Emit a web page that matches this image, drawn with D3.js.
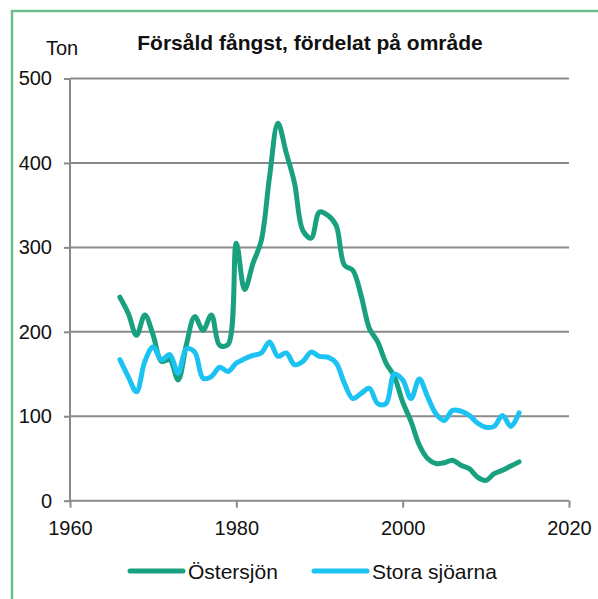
<!DOCTYPE html>
<html>
<head>
<meta charset="utf-8">
<script src="https://cdn.jsdelivr.net/npm/d3@7"></script>
<style>
  body { margin: 0; background: #fff; }
  svg { display: block; font-family: "Liberation Sans", Arial, sans-serif; }
</style>
</head>
<body>
<div id="chart-area"></div>
<script>
// Sold catch by area (tonnes)
var years = [1966, 1967, 1968, 1969, 1970, 1971, 1972, 1973, 1974, 1975,
    1976, 1977, 1978, 1979, 1980, 1981, 1982, 1983, 1984, 1985,
    1986, 1987, 1988, 1989, 1990, 1991, 1992, 1993, 1994, 1995,
    1996, 1997, 1998, 1999, 2000, 2001, 2002, 2003, 2004, 2005,
    2006, 2007, 2008, 2009, 2010, 2011, 2012, 2013, 2014];

var ostersjon = [241, 222, 196, 220, 196, 165, 167, 143, 185, 218,
    202, 220, 184, 185, 305, 250, 281, 308, 384, 447,
    412, 376, 320, 311, 342, 338, 326, 279, 273, 243,
    204, 188, 163, 147, 117, 94, 66, 50, 44, 45,
    48, 42, 38, 28, 24, 32, 36, 41, 46];

var storaSjoarna = [167, 147, 129, 165, 182, 167, 173, 151, 180, 176,
    145, 147, 158, 153, 163, 168, 172, 175, 188, 171,
    175, 161, 165, 176, 171, 170, 163, 139, 121, 127,
    133, 115, 115, 150, 143, 121, 144, 123, 103, 95,
    107, 106, 101, 92, 87, 88, 101, 88, 104];

var seriesNames = ["Östersjön", "Stora sjöarna"];
var seriesColors = ["#18a07f", "#1cc2f2"];
var yTicks = [0, 100, 200, 300, 400, 500];
var xTicks = [1960, 1980, 2000, 2020];

var W = 598, H = 599;
var margin = { left: 70, right: 29, top: 78.5, bottom: 98.3 };
var width = W - margin.left - margin.right,
    height = H - margin.top - margin.bottom;

var svg = d3.select("#chart-area")
    .append("svg")
        .attr("width", W)
        .attr("height", H);

// green frame (left + top edge visible)
svg.append("path")
    .attr("d", "M12,599 L12,11 L598,11")
    .attr("fill", "none")
    .attr("stroke", "#6cbd8d")
    .attr("stroke-width", 2.5);

var g = svg.append("g")
    .attr("transform", "translate(" + margin.left + ", " + margin.top + ")");

// X Scale
var x = d3.scaleLinear()
    .domain([1960, 2020])
    .range([0, width]);

// Y Scale
var y = d3.scaleLinear()
    .domain([0, 500])
    .range([height, 0]);

// Gridlines
g.append("g")
    .selectAll("line")
    .data(yTicks.filter(function(d){ return d > 0; }))
    .enter().append("line")
        .attr("x1", 0)
        .attr("x2", width)
        .attr("y1", function(d){ return y(d); })
        .attr("y2", function(d){ return y(d); })
        .attr("stroke", "#8a8a8a")
        .attr("stroke-width", 2);

// Y Axis
var yAxisCall = d3.axisLeft(y)
    .tickValues(yTicks)
    .tickSize(6)
    .tickPadding(12);
var yAxisGroup = g.append("g")
    .attr("class", "y axis")
    .call(yAxisCall);

// X Axis
var xAxisCall = d3.axisBottom(x)
    .tickValues(xTicks)
    .tickFormat(d3.format("d"))
    .tickSize(7)
    .tickPadding(13);
var xAxisGroup = g.append("g")
    .attr("class", "x axis")
    .attr("transform", "translate(0," + height + ")")
    .call(xAxisCall);

[yAxisGroup, xAxisGroup].forEach(function(ax){
    ax.select(".domain").attr("stroke", "#8a8a8a").attr("stroke-width", 2);
    ax.selectAll(".tick line").attr("stroke", "#8a8a8a").attr("stroke-width", 2);
    ax.selectAll(".tick text")
        .attr("fill", "#111")
        .attr("font-size", "20px")
        .attr("font-family", "'Liberation Sans', Arial, sans-serif");
});
yAxisGroup.select(".domain").attr("d", "M0," + height + "V0");
xAxisGroup.select(".domain").attr("d", "M0,0H" + width);

// Lines
var line = d3.line()
    .x(function(d){ return x(d.year); })
    .y(function(d){ return y(d.value); })
    .curve(d3.curveCatmullRom.alpha(0.5));

var series = [ostersjon, storaSjoarna].map(function(vals, i){
    return {
        name: seriesNames[i],
        color: seriesColors[i],
        values: years.map(function(yr, j){ return { year: yr, value: vals[j] }; })
    };
});

// green first, blue drawn over it
g.selectAll(".series")
    .data(series)
    .enter().append("path")
        .attr("class", "series")
        .attr("fill", "none")
        .attr("stroke", function(d){ return d.color; })
        .attr("stroke-width", 5)
        .attr("stroke-linejoin", "round")
        .attr("stroke-linecap", "round")
        .attr("d", function(d){ return line(d.values); });

// Title
svg.append("text")
    .attr("x", 310)
    .attr("y", 50)
    .attr("text-anchor", "middle")
    .attr("font-size", "21px")
    .attr("font-weight", "bold")
    .attr("fill", "#111")
    .text("Försåld fångst, fördelat på område");

// Y Label
svg.append("text")
    .attr("x", 46)
    .attr("y", 54.5)
    .attr("font-size", "20px")
    .attr("fill", "#111")
    .text("Ton");

// Legend
var legendX = [130, 314];
var legend = svg.selectAll(".legend")
    .data(series)
    .enter().append("g")
        .attr("class", "legend")
        .attr("transform", function(d, i){ return "translate(" + legendX[i] + ",571)"; });

legend.append("line")
    .attr("x1", 0)
    .attr("x2", 53)
    .attr("stroke", function(d){ return d.color; })
    .attr("stroke-width", 5)
    .attr("stroke-linecap", "round");

legend.append("text")
    .attr("x", 58)
    .attr("y", 7.5)
    .attr("font-size", "21px")
    .attr("fill", "#111")
    .text(function(d){ return d.name; });
</script>
</body>
</html>
